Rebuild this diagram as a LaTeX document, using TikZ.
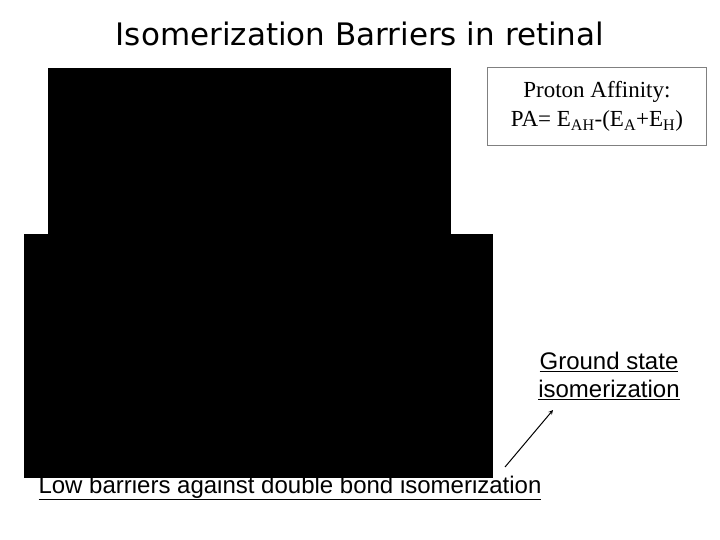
\documentclass[tikz,border=0pt]{standalone}
\usepackage{fontspec}
\setmainfont{Liberation Serif}
\newfontfamily\arialf{Liberation Sans}
\newfontfamily\titlef{DejaVu Sans}
\begin{document}
\begin{tikzpicture}[x=1pt,y=-1pt,
  lbl/.style={font=\arialf\fontsize{24}{28}\selectfont,align=center,inner sep=0pt}]
\useasboundingbox (0,0) rectangle (720,540);
\node[font=\titlef\fontsize{31}{34}\selectfont] (title) at (360,34) {Isomerization Barriers in retinal};
\fill[black] (48,68) rectangle (451,240);
\fill[black] (24,234) rectangle (493,478);
\node[draw=gray,line width=0.8pt,minimum width=219pt,minimum height=78pt,align=center,
  font=\fontsize{23}{29}\selectfont,anchor=north west,inner sep=1pt] (pa) at (487,67)
  {Proton Affinity:\\PA= E$_{\mathrm{AH}}$-(E$_{\mathrm{A}}$+E$_{\mathrm{H}}$)};
\node[lbl] (gs) at (609,376) {\underline{Ground state}\\\underline{isomerization}};
\node[lbl] (low) at (290,488) {\underline{Low barriers against double bond isomerization}};
\coordinate (a0) at (505,467);
\draw[-stealth,line width=1pt] (a0) -- (553,410);
\end{tikzpicture}
\end{document}
